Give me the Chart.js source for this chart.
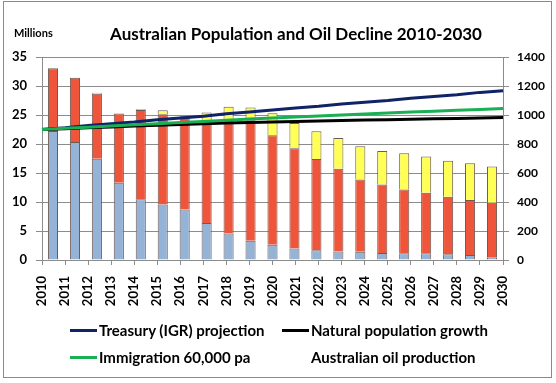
<!DOCTYPE html>
<html><head><meta charset="utf-8">
<script src="https://cdn.jsdelivr.net/npm/chart.js@4.4.1/dist/chart.umd.min.js"></script>
<style>
html,body{margin:0;padding:0;background:#fff;}
#wrap{position:relative;width:556px;height:383px;overflow:hidden;background:#fff;}
#frame{position:absolute;left:3px;top:1px;width:547px;height:375px;border:1px solid #8a8a8a;pointer-events:none;}
canvas{position:absolute;left:0;top:0;}
.lg{position:absolute;font:bold 15px Lato, sans-serif;color:#000;white-space:nowrap;line-height:18px;}
.sw{position:absolute;height:3px;width:27px;}
</style></head><body>
<div id="wrap"><canvas id="c" width="556" height="383"></canvas>
<div id="legend"></div>
<div id="frame"></div></div>
<script>
// ---- data ----
const years = ['2010','2011','2012','2013','2014','2015','2016','2017','2018','2019','2020',
               '2021','2022','2023','2024','2025','2026','2027','2028','2029','2030'];
// Population lines (millions, left axis)
const treasury = [22.5,22.8,23.2,23.5,23.8,24.2,24.5,24.8,25.2,25.5,25.85,26.2,26.5,26.9,27.2,27.5,27.9,28.2,28.5,28.9,29.2];
const natural  = [22.5,22.65,22.8,22.95,23.1,23.22,23.35,23.48,23.6,23.7,23.8,23.88,23.96,24.04,24.12,24.2,24.27,24.34,24.41,24.48,24.55];
const immigration = [22.5,22.7,22.9,23.1,23.3,23.5,23.7,23.9,24.1,24.3,24.5,24.67,24.84,25.0,25.17,25.33,25.5,25.65,25.8,25.95,26.1];
// Oil production stacked bars (right axis)
const oilBlue   = [890,813,698,533,419,382,348,256,183,133,105,79,68,58,57,48,46,46,39,34,16];
const oilRed    = [432,444,448,478,615,623,634,703,783,830,756,692,629,572,498,472,441,418,398,380,379];
const oilYellow = [0,0,8,0,5,27,9,59,91,88,151,174,191,212,230,232,249,249,248,253,249];
const leftTicks = [0,5,10,15,20,25,30,35];
const rightTicks = [0,200,400,600,800,1000,1200,1400];
const titleText = 'Australian Population and Oil Decline 2010-2030';
const unitText = 'Millions';
const legendItems = [
  {label:'Treasury (IGR) projection', color:'#0f2366', x:70, y:321},
  {label:'Natural population growth', color:'#000000', x:282, y:321},
  {label:'Immigration 60,000 pa', color:'#1aaf55', x:70, y:348},
  {label:'Australian oil production', color:null, x:282, y:348}
];

const FONT = 'Lato, "Open Sans", sans-serif';
const GRID = '#8c8c8c';
const BORDER = '#6e5a52';

const titlePlugin = {
  id:'titles',
  afterDraw(chart){
    const ctx = chart.ctx;
    ctx.save();
    ctx.fillStyle = '#000';
    ctx.textBaseline = 'alphabetic';
    ctx.font = 'bold 17px ' + FONT;
    ctx.textAlign = 'center';
    ctx.fillText(titleText, 296, 40);
    ctx.font = 'bold 11px ' + FONT;
    ctx.textAlign = 'left';
    ctx.fillText(unitText, 14, 37);
    ctx.restore();
  }
};

const barCommon = {type:'bar', borderColor:BORDER, borderWidth:1, xAxisID:'x2', yAxisID:'y1', order:3,
                   barPercentage:0.46, categoryPercentage:1, grouped:false};

const ctx = document.getElementById('c').getContext('2d');
new Chart(ctx, {
  data: {
    labels: years,
    datasets: [
      {type:'line', label:'Immigration 60,000 pa', data:immigration, borderColor:'#1aaf55', borderWidth:3, pointRadius:0, xAxisID:'x', yAxisID:'y', order:0, tension:0},
      {type:'line', label:'Natural population growth', data:natural, borderColor:'#000000', borderWidth:3, pointRadius:0, xAxisID:'x', yAxisID:'y', order:1, tension:0},
      {type:'line', label:'Treasury (IGR) projection', data:treasury, borderColor:'#0f2366', borderWidth:3, pointRadius:0, xAxisID:'x', yAxisID:'y', order:2, tension:0},
      Object.assign({label:'Oil A', data:oilBlue, backgroundColor:'#95b3d7'}, barCommon),
      Object.assign({label:'Oil B', data:oilRed, backgroundColor:'#ef553a'}, barCommon),
      Object.assign({label:'Oil C', data:oilYellow, backgroundColor:'#ffff55'}, barCommon)
    ]
  },
  options: {
    responsive:false,
    animation:false,
    devicePixelRatio:1,
    layout:{padding:{top:57,left:0,right:0,bottom:0}},
    plugins:{legend:{display:false}, title:{display:false}, tooltip:{enabled:false}},
    scales:{
      x:{type:'category', labels:years, offset:false, position:'bottom',
         grid:{display:true, drawOnChartArea:false, drawTicks:true, tickLength:5, color:GRID},
         border:{display:true, color:GRID},
         ticks:{autoSkip:false, minRotation:90, maxRotation:90, padding:11, color:'#000', font:{family:FONT, weight:'bold', size:13}},
         afterFit(s){ s.height = 123; }},
      x2:{type:'category', labels:years, offset:true, display:false, stacked:true},
      y:{type:'linear', position:'left', min:0, max:35,
         afterBuildTicks(s){ s.ticks = leftTicks.map(v=>({value:v})); },
         grid:{color:GRID, tickLength:6},
         border:{display:true, color:GRID},
         ticks:{padding:9, color:'#000', font:{family:FONT, weight:'bold', size:13}, callback:v=>String(v)},
         afterFit(s){ s.width = 42; }},
      y1:{type:'linear', position:'right', min:0, max:1400, stacked:true,
         afterBuildTicks(s){ s.ticks = rightTicks.map(v=>({value:v})); },
         grid:{drawOnChartArea:false, color:GRID, tickLength:6},
         border:{display:true, color:GRID},
         ticks:{padding:8, color:'#000', font:{family:FONT, weight:'bold', size:12}, callback:v=>String(v)},
         afterFit(s){ s.width = 53; }}
    }
  },
  plugins:[titlePlugin]
});

const lg = document.getElementById('legend');
legendItems.forEach(it => {
  if (it.color) {
    const sw = document.createElement('div');
    sw.className = 'sw';
    sw.style.left = it.x + 'px';
    sw.style.top = (it.y + 8) + 'px';
    sw.style.background = it.color;
    lg.appendChild(sw);
  }
  const t = document.createElement('div');
  t.className = 'lg';
  t.style.left = (it.x + 29) + 'px';
  t.style.top = it.y + 'px';
  t.textContent = it.label;
  lg.appendChild(t);
});
</script>
</body></html>
